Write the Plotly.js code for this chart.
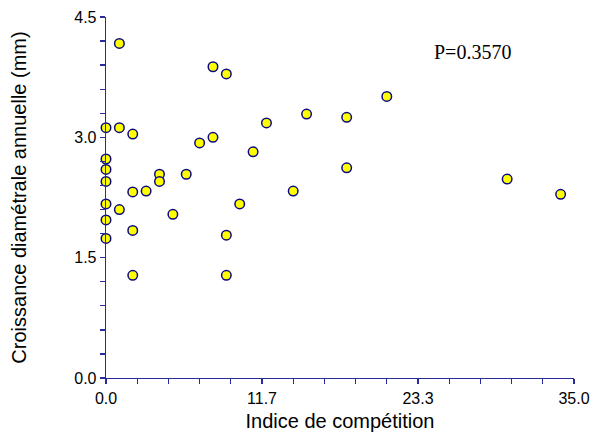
<!DOCTYPE html>
<html>
<head>
<meta charset="utf-8">
<script src="https://cdn.plot.ly/plotly-3.0.1.min.js"></script>
<style>html,body{margin:0;padding:0;background:#fff;}#chart{width:593px;height:439px;}</style>
</head>
<body>
<div id="chart"></div>
<script>
// Indice de compétition (x) and croissance diamétrale annuelle in mm (y)
const competition = [1, 8, 9, 0, 1, 2, 7, 8, 11, 12, 15, 18, 21, 0, 0, 0, 4, 4, 6, 18, 2, 3, 14, 0, 1, 5, 10, 0, 2, 9, 0, 2, 9, 30, 34];
const croissance  = [4.17, 3.88, 3.79, 3.12, 3.12, 3.04, 2.93, 3.00, 2.82, 3.18, 3.29, 3.25, 3.51, 2.73, 2.60, 2.45, 2.54, 2.45, 2.54, 2.62, 2.32, 2.33, 2.33, 2.17, 2.10, 2.04, 2.17, 1.97, 1.84, 1.78, 1.74, 1.28, 1.28, 2.48, 2.29];
const xTickVals = [0, 35/3, 70/3, 35];
const xTickText = ["0.0", "11.7", "23.3", "35.0"];
const yTickVals = [0, 1.5, 3.0, 4.5];
const yTickText = ["0.0", "1.5", "3.0", "4.5"];
const pLabel = "P=0.3570";

const axisColor = "#2a2a9a";
const trace = {
  x: competition, y: croissance, type: "scatter", mode: "markers",
  marker: {color: "#ffff00", size: 9.5, line: {color: "#0a0a80", width: 1.5}},
  hoverinfo: "x+y", cliponaxis: false
};
const layout = {
  width: 593, height: 439,
  margin: {l: 106, r: 19, t: 17, b: 61},
  paper_bgcolor: "#fff", plot_bgcolor: "#fff",
  showlegend: false,
  font: {family: "Liberation Sans, Arial, sans-serif", color: "#000"},
  xaxis: {
    range: [0, 35], showgrid: false, zeroline: false,
    showline: true, linecolor: axisColor, linewidth: 1.3,
    ticks: "outside", ticklen: 5, tickwidth: 1.3, tickcolor: axisColor,
    tickmode: "array", tickvals: xTickVals, ticktext: xTickText,
    tickfont: {size: 16},
    minor: {tickmode: "linear", tick0: 0, dtick: 35/15, ticks: "outside", ticklen: 5, tickwidth: 1.3, tickcolor: axisColor},
    title: {text: "Indice de compétition", font: {size: 20}, standoff: 8}
  },
  yaxis: {
    range: [0, 4.5], showgrid: false, zeroline: false,
    showline: true, linecolor: axisColor, linewidth: 1.3,
    ticks: "outside", ticklen: 5, tickwidth: 1.3, tickcolor: axisColor,
    tickmode: "array", tickvals: yTickVals, ticktext: yTickText,
    tickfont: {size: 16}, ticklabelstandoff: 0,
    minor: {tickmode: "linear", tick0: 0, dtick: 0.3, ticks: "outside", ticklen: 5, tickwidth: 1.3, tickcolor: axisColor},
    title: {text: "Croissance diamétrale annuelle (mm)", font: {size: 20}, standoff: 42}
  },
  annotations: [{
    text: pLabel, xref: "paper", yref: "paper", x: 0.784, y: 0.903,
    xanchor: "center", yanchor: "middle", showarrow: false,
    font: {family: "Liberation Serif, Times New Roman, serif", size: 20, color: "#000"}
  }]
};
Plotly.newPlot("chart", [trace], layout, {displayModeBar: false, staticPlot: true});
</script>
</body>
</html>
